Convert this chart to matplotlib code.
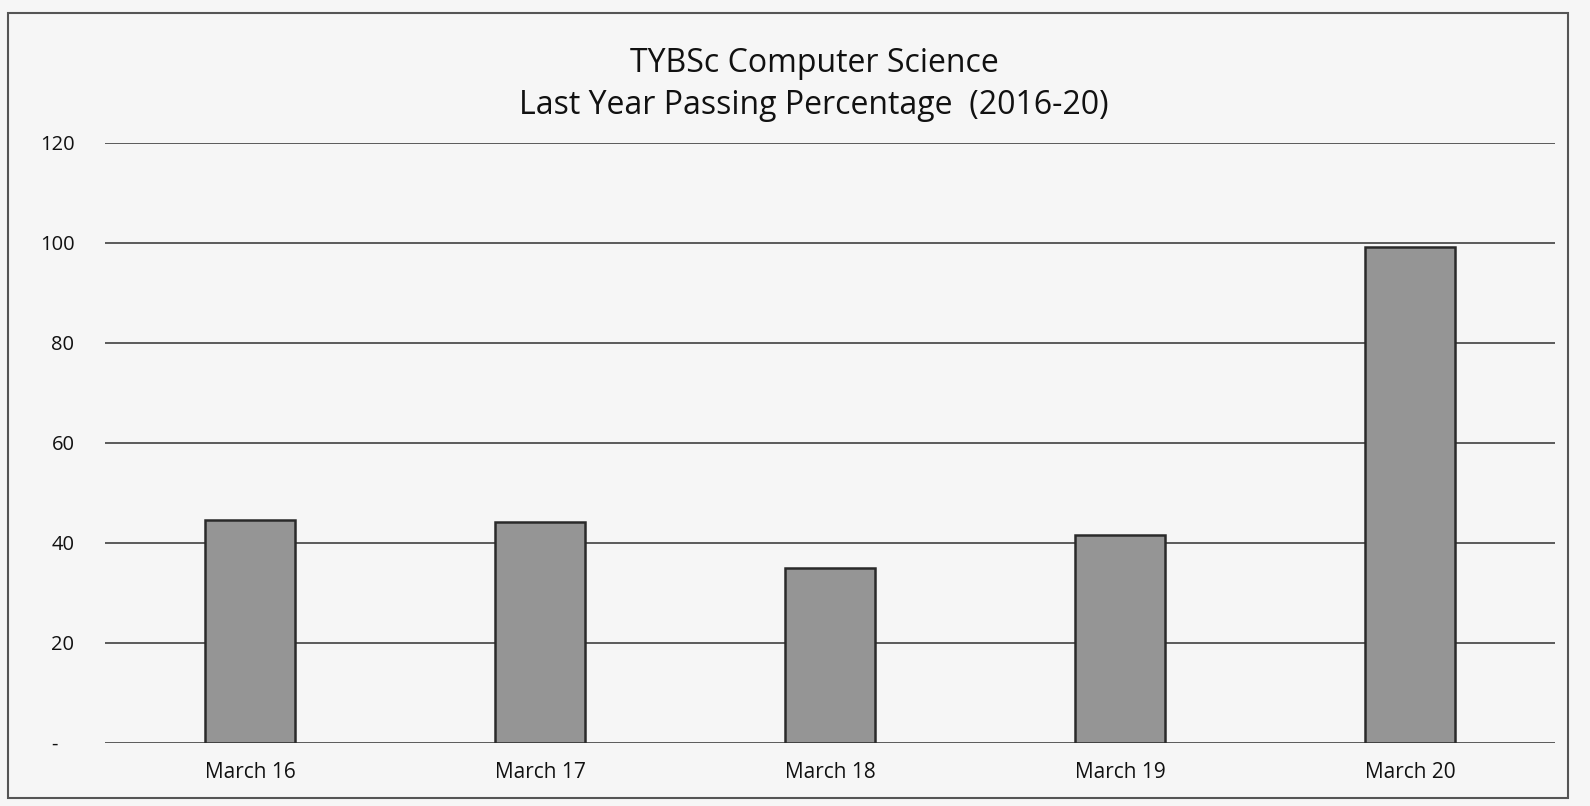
import matplotlib
matplotlib.use("Agg")
import matplotlib.pyplot as plt
from matplotlib.patches import Rectangle

categories = ["March 16", "March 17", "March 18", "March 19", "March 20"]
passing_pct = [44.6, 44.3, 35.0, 41.6, 99.2]
y_ticks = [0, 20, 40, 60, 80, 100, 120]
y_tick_labels = ["-   ", "20", "40", "60", "80", "100", "120"]
title_lines = ["TYBSc Computer Science", "Last Year Passing Percentage  (2016-20)"]

plt.rcParams['font.family'] = ['Open Sans', 'DejaVu Sans']

fig = plt.figure(figsize=(15.9, 8.06), dpi=100)
fig.patch.set_facecolor('#f6f6f6')
ax = fig.add_axes([105/1590, 1-743/806, 1450/1590, 600/806])
ax.set_facecolor('none')

x = range(len(categories))
ax.bar(x, passing_pct, width=0.31, color='#959595', edgecolor='#2a2a2a', linewidth=1.8, zorder=3)

ax.set_xlim(-0.5, len(categories) - 0.5)
ax.set_ylim(0, 120)
ax.set_yticks(y_ticks)
ax.set_yticklabels(y_tick_labels, fontsize=14.5, color='#111')
ax.set_xticks(list(x))
ax.set_xticklabels(categories, fontsize=15, color='#111')
ax.tick_params(axis='y', length=0, pad=22)
ax.tick_params(axis='x', length=0, pad=14)
for s in ax.spines.values():
    s.set_visible(False)
ax.yaxis.grid(True, color='#5a5a5a', linewidth=1.4, zorder=0)
ax.set_axisbelow(True)

fig.text(0.512, 1-64/806, title_lines[0], ha='center', va='center', fontsize=23, color='#111')
fig.text(0.512, 1-105/806, title_lines[1], ha='center', va='center', fontsize=23, color='#111')

fig.patches.append(Rectangle((8/1590, 8/806), 1560/1590, 785/806, transform=fig.transFigure,
                             fill=False, edgecolor='#555555', linewidth=1.5))

fig.savefig("out.png", dpi=100, facecolor=fig.get_facecolor())
